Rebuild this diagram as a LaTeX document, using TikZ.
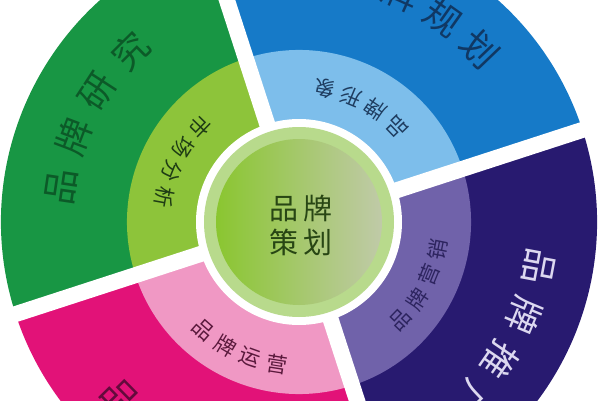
\documentclass[tikz,border=0pt]{standalone}
\usepackage{fontspec}
\newfontfamily\cjk{Noto Sans CJK SC}
\usetikzlibrary{calc}
\definecolor{outgreen}{RGB}{24,150,68}
\definecolor{ingreen}{RGB}{141,196,58}
\definecolor{outblue}{RGB}{22,122,200}
\definecolor{inblue}{RGB}{125,190,235}
\definecolor{outpurple}{RGB}{40,26,112}
\definecolor{inpurple}{RGB}{112,98,170}
\definecolor{outpink}{RGB}{226,18,120}
\definecolor{inpink}{RGB}{240,152,196}
\definecolor{palering}{RGB}{184,218,140}
\definecolor{discl}{RGB}{138,198,48}
\definecolor{discr}{RGB}{192,202,168}
\definecolor{gtxt}{RGB}{12,90,40}
\definecolor{btxt}{RGB}{16,56,100}
\definecolor{ptxt}{RGB}{220,216,240}
\definecolor{pktxt}{RGB}{100,10,60}
\definecolor{igtxt}{RGB}{30,60,20}
\definecolor{ibtxt}{RGB}{30,60,95}
\definecolor{iptxt}{RGB}{45,36,95}
\definecolor{ipktxt}{RGB}{90,25,60}
\definecolor{ctxt}{RGB}{40,70,20}
\tikzset{
  gapline/.style={white,line width=16pt},
  outtxt/.style={font=\cjk\fontsize{36}{36}\selectfont,inner sep=0pt},
  intxt/.style={font=\cjk\fontsize{21}{21}\selectfont,inner sep=0pt},
  ctrtxt/.style={font=\cjk\fontsize{29}{34}\selectfont,text=ctxt,align=center,inner sep=0pt}
}
\begin{document}
\begin{tikzpicture}[x=1pt,y=1pt]
\useasboundingbox (0,0) rectangle (600,400);
\clip (0,0) rectangle (600,400);
\fill[white] (0,0) rectangle (600,400);
\coordinate (c) at (299,178);
% outer sectors
\fill[outblue] (c) -- ++(18:298) arc[start angle=18,end angle=108,radius=298] -- cycle;
\fill[outgreen] (c) -- ++(108:298) arc[start angle=108,end angle=198,radius=298] -- cycle;
\fill[outpink] (c) -- ++(198:298) arc[start angle=198,end angle=288,radius=298] -- cycle;
\fill[outpurple] (c) -- ++(288:298) arc[start angle=288,end angle=378,radius=298] -- cycle;
% inner sectors
\fill[inblue] (c) -- ++(18:172) arc[start angle=18,end angle=108,radius=172] -- cycle;
\fill[ingreen] (c) -- ++(108:172) arc[start angle=108,end angle=198,radius=172] -- cycle;
\fill[inpink] (c) -- ++(198:172) arc[start angle=198,end angle=288,radius=172] -- cycle;
\fill[inpurple] (c) -- ++(288:172) arc[start angle=288,end angle=378,radius=172] -- cycle;
% gaps
\coordinate (g1) at ($(c)+(18:330)$);
\coordinate (g2) at ($(c)+(108:330)$);
\coordinate (g3) at ($(c)+(198:330)$);
\coordinate (g4) at ($(c)+(288:330)$);
\draw[gapline] (c) -- (g1);
\draw[gapline] (c) -- (g2);
\draw[gapline] (c) -- (g3);
\draw[gapline] (c) -- (g4);
% centre
\fill[white] (c) circle (103);
\fill[palering] (c) circle (95);
\shade[left color=discl,right color=discr] (c) circle (83);
\node[ctrtxt] (ctr) at ($(c)+(2,-3)$) {品\,牌\\策\,划};
% outer texts
\foreach \ch [count=\i] in {品,牌,研,究}{
  \pgfmathsetmacro\ang{171.6-(\i-1)*12.3}
  \node[outtxt,text=gtxt,rotate=\ang-90] (og\i) at ($(c)+(\ang:240)$) {\ch};}
\foreach \ch [count=\i] in {品,牌,规,划}{
  \pgfmathsetmacro\ang{77-(\i-1)*11.1}
  \node[outtxt,text=btxt,rotate=\ang-90] (ob\i) at ($(c)+(\ang:250)$) {\ch};}
\foreach \ch [count=\i] in {品,牌,推,广}{
  \pgfmathsetmacro\ang{-10.6-(\i-1)*12}
  \node[outtxt,text=ptxt,rotate=\ang-90] (op\i) at ($(c)+(\ang:244)$) {\ch};}
\foreach \ch [count=\i] in {品,牌,管,理}{
  \pgfmathsetmacro\ang{224.5+(\i-1)*12}
  \node[outtxt,text=pktxt,rotate=\ang+90] (opk\i) at ($(c)+(\ang:250)$) {\ch};}
% inner texts
\foreach \ch [count=\i] in {市,场,分,析}{
  \pgfmathsetmacro\ang{136+(\i-1)*11.2}
  \node[intxt,text=igtxt,rotate=\ang+90] (ig\i) at ($(c)+(\ang:137)$) {\ch};}
\foreach \ch [count=\i] in {品,牌,形,象}{
  \pgfmathsetmacro\ang{44+(\i-1)*11.7}
  \node[intxt,text=ibtxt,rotate=\ang+90] (ib\i) at ($(c)+(\ang:136)$) {\ch};}
\foreach \ch [count=\i] in {品,牌,营,销}{
  \pgfmathsetmacro\ang{-44+(\i-1)*10.9}
  \node[intxt,text=iptxt,rotate=\ang+90] (ip\i) at ($(c)+(\ang:141)$) {\ch};}
\foreach \ch [count=\i] in {品,牌,运,营}{
  \pgfmathsetmacro\ang{228.4+(\i-1)*10.9}
  \node[intxt,text=ipktxt,rotate=\ang+90] (ipk\i) at ($(c)+(\ang:144)$) {\ch};}
\end{tikzpicture}
\end{document}
